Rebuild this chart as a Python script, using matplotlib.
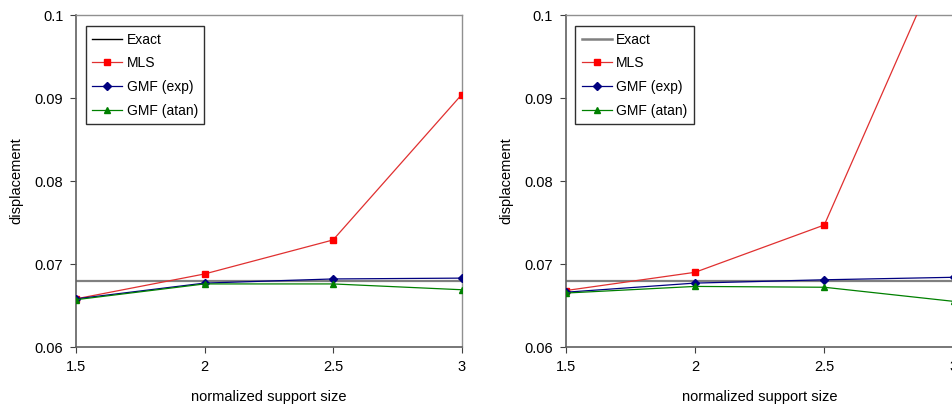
import matplotlib.pyplot as plt
from matplotlib.lines import Line2D

plt.rcParams["font.family"] = ["Liberation Sans", "DejaVu Sans"]

support = [1.5, 2.0, 2.5, 3.0]
exact = 0.068

# left panel
mls_a = [0.0658, 0.0688, 0.0729, 0.0904]
exp_a = [0.0658, 0.0677, 0.0682, 0.0683]
atan_a = [0.0657, 0.0676, 0.0676, 0.0669]

# right panel
mls_b = [0.0668, 0.0690, 0.0747, 0.1101]
exp_b = [0.0666, 0.0677, 0.0681, 0.0684]
atan_b = [0.0665, 0.0673, 0.0672, 0.0655]

xticks = [1.5, 2, 2.5, 3]
xticklabels = ["1.5", "2", "2.5", "3"]
yticks = [0.06, 0.07, 0.08, 0.09, 0.1]
yticklabels = ["0.06", "0.07", "0.08", "0.09", "0.1"]

fig = plt.figure(figsize=(9.53, 4.07), dpi=100)
axA = fig.add_axes([0.0797, 0.1474, 0.4047, 0.8157])
axB = fig.add_axes([0.5936, 0.1474, 0.4070, 0.8157])


def panel(ax, mls, gexp, gatan, exact_handle_color):
    ax.axhline(exact, color="#808080", lw=1.6, zorder=1)
    ax.plot(support, mls, color="#e03030", lw=0.9, marker="s", ms=5,
            mfc="#ff0000", mec="#ff0000", zorder=3)
    ax.plot(support, gexp, color="#000080", lw=0.9, marker="D", ms=4,
            mfc="#000080", mec="#000080", zorder=3)
    ax.plot(support, gatan, color="#008000", lw=0.9, marker="^", ms=5,
            mfc="#008000", mec="#008000", zorder=3)
    ax.set_xlim(1.5, 3)
    ax.set_ylim(0.06, 0.1)
    ax.set_xticks(xticks)
    ax.set_xticklabels(xticklabels)
    ax.set_yticks(yticks)
    ax.set_yticklabels(yticklabels)
    ax.tick_params(direction="out", length=4, width=0.8, color="#404040",
                   labelsize=10.5, pad=5)
    for s in ["left", "bottom"]:
        ax.spines[s].set_color("#606060")
        ax.spines[s].set_linewidth(1.2)
    for s in ["top", "right"]:
        ax.spines[s].set_color("#909090")
        ax.spines[s].set_linewidth(1.0)
    ax.set_xlabel("normalized support size", fontsize=10.5, labelpad=12)
    ax.set_ylabel("displacement", fontsize=10.5, labelpad=8)

    handles = [
        Line2D([], [], color=exact_handle_color, lw=1.0 if exact_handle_color == "black" else 1.8),
        Line2D([], [], color="#e03030", lw=0.9, marker="s", ms=5, mfc="#ff0000", mec="#ff0000"),
        Line2D([], [], color="#000080", lw=0.9, marker="D", ms=4, mfc="#000080", mec="#000080"),
        Line2D([], [], color="#008000", lw=0.9, marker="^", ms=5, mfc="#008000", mec="#008000"),
    ]
    leg = ax.legend(handles, ["Exact", "MLS", "GMF (exp)", "GMF (atan)"],
                    loc="upper left", bbox_to_anchor=(0.025, 0.966), fontsize=10,
                    fancybox=False, framealpha=1, edgecolor="#303030",
                    handlelength=2.2, handletextpad=0.3, labelspacing=0.7,
                    borderpad=0.45, borderaxespad=0)
    leg.get_frame().set_linewidth(1.0)


panel(axA, mls_a, exp_a, atan_a, "black")
panel(axB, mls_b, exp_b, atan_b, "#808080")

fig.savefig("out.png", dpi=100)
